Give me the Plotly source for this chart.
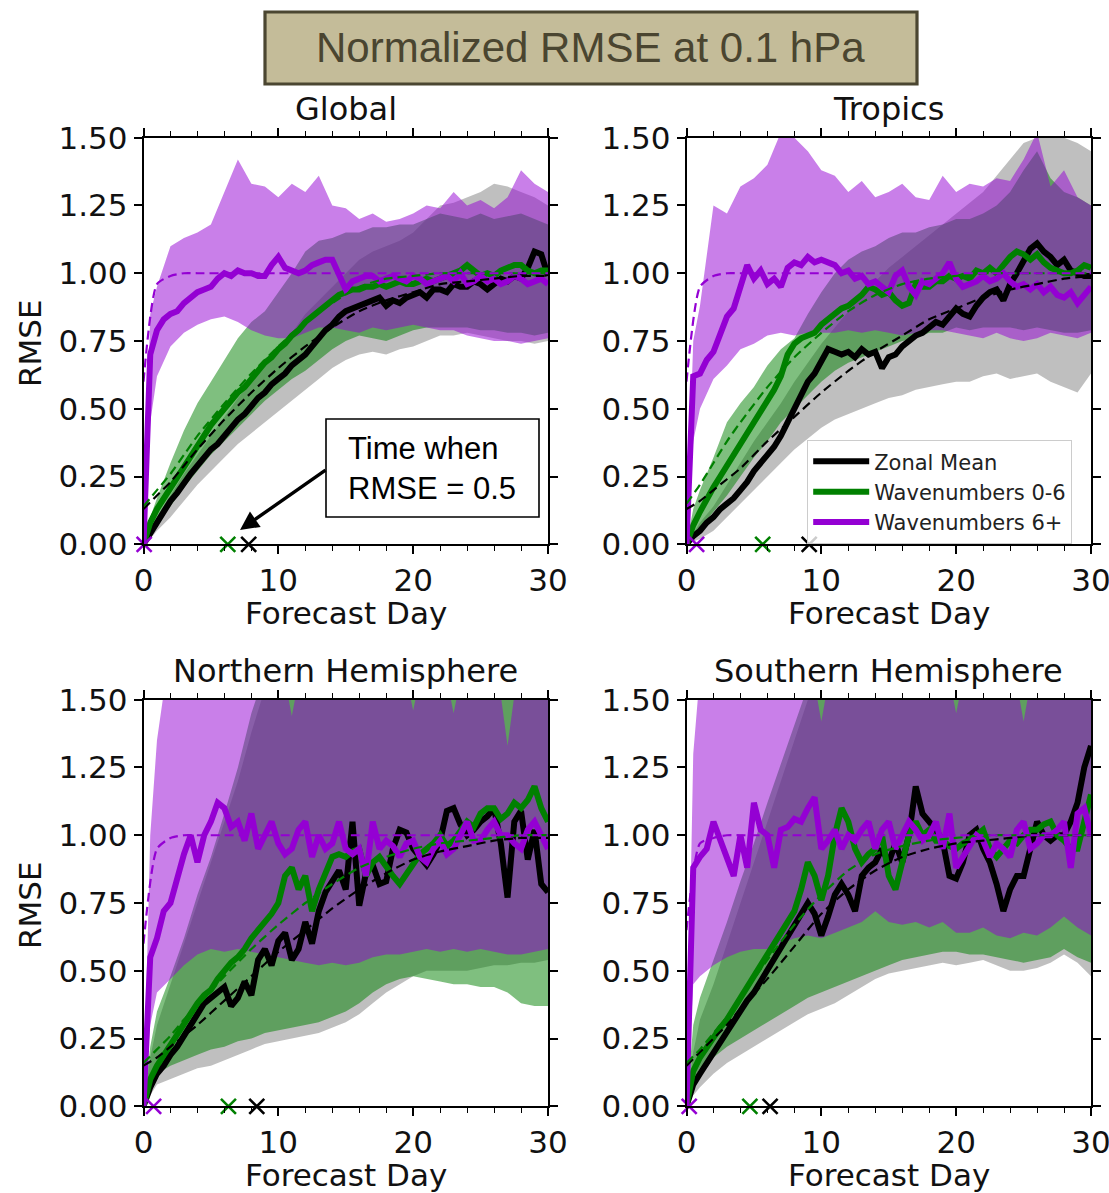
import plotly.graph_objects as go

# ---------------- data ----------------
DAYS = [i * 0.5 for i in range(61)]                   # 0, 0.5, ... 30
BAND_DAYS = [0, 0.5] + list(range(1, 31))              # 0, 0.5, 1, 2 ... 30
FIT_DAYS = [0, 1, 2, 3, 4] + list(range(6, 31, 2))     # 0..4, 6, 8 ... 30

PANELS = ["Global", "Tropics", "Northern Hemisphere", "Southern Hemisphere"]
SERIES = ["Zonal Mean", "Wavenumbers 0-6", "Wavenumbers 6+"]

# ---- Global ----
GLB_BLACK = [0, 0.04, 0.09, 0.13, 0.16, 0.19, 0.23, 0.26, 0.29, 0.32,
             0.35, 0.37, 0.40, 0.43, 0.46, 0.48, 0.51, 0.54, 0.56, 0.59,
             0.61, 0.63, 0.66, 0.68, 0.70, 0.73, 0.76, 0.79, 0.81, 0.84,
             0.86, 0.87, 0.88, 0.89, 0.90, 0.91, 0.88, 0.90, 0.89, 0.91,
             0.92, 0.93, 0.91, 0.94, 0.94, 0.93, 0.96, 0.95, 0.95, 0.97,
             0.96, 0.94, 0.96, 0.98, 0.97, 0.99, 0.98, 1.02, 1.08, 1.07,
             0.99]
GLB_GREEN = [0, 0.08, 0.13, 0.17, 0.21, 0.25, 0.29, 0.33, 0.37, 0.40,
             0.44, 0.47, 0.50, 0.53, 0.56, 0.58, 0.61, 0.64, 0.67, 0.69,
             0.72, 0.74, 0.77, 0.79, 0.82, 0.84, 0.86, 0.88, 0.90, 0.92,
             0.93, 0.94, 0.94, 0.95, 0.95, 0.96, 0.95, 0.96, 0.97, 0.96,
             0.96, 0.97, 0.98, 0.97, 0.98, 0.99, 1.00, 1.01, 1.03, 1.01,
             0.99, 1.00, 0.99, 1.01, 1.02, 1.03, 1.03, 1.01, 1.00, 1.01,
             1.01]
GLB_PURPLE = [0, 0.70, 0.79, 0.83, 0.85, 0.86, 0.89, 0.91, 0.93, 0.94,
              0.95, 0.98, 1.00, 0.99, 1.01, 1.00, 1.00, 0.99, 0.99, 1.03,
              1.06, 1.02, 1.01, 1.00, 1.01, 1.03, 1.04, 1.05, 1.05, 1.00,
              0.94, 0.97, 0.98, 0.99, 0.99, 0.97, 0.98, 0.99, 0.98, 0.97,
              0.99, 0.98, 0.96, 0.97, 0.98, 0.99, 0.97, 1.00, 0.96, 0.97,
              0.99, 0.97, 0.98, 0.96, 0.97, 0.99, 0.98, 0.96, 0.97, 0.98,
              0.96]
GLB_BLACK_HI = [0, 0.06, 0.10, 0.18, 0.26, 0.33, 0.40, 0.47, 0.54, 0.60, 0.66, 0.72, 0.78, 0.85, 0.90, 0.95,
                1.00, 1.05, 1.08, 1.10, 1.12, 1.15, 1.20, 1.25, 1.26, 1.28, 1.30, 1.33, 1.32, 1.30, 1.28, 1.25]
GLB_BLACK_LO = [0, 0.02, 0.05, 0.10, 0.16, 0.22, 0.27, 0.32, 0.37, 0.41, 0.45, 0.49, 0.53, 0.57, 0.61, 0.65,
                0.68, 0.70, 0.71, 0.70, 0.72, 0.73, 0.75, 0.77, 0.77, 0.78, 0.77, 0.76, 0.75, 0.75, 0.74, 0.75]
GLB_GREEN_HI = [0, 0.10, 0.17, 0.30, 0.42, 0.52, 0.60, 0.68, 0.76, 0.82, 0.86, 0.93, 1.00, 1.08, 1.12, 1.13,
                1.15, 1.15, 1.17, 1.17, 1.18, 1.18, 1.20, 1.22, 1.21, 1.20, 1.22, 1.20, 1.21, 1.22, 1.20, 1.18]
GLB_GREEN_LO = [0, 0.04, 0.08, 0.14, 0.21, 0.27, 0.33, 0.38, 0.43, 0.48, 0.53, 0.57, 0.61, 0.64, 0.68, 0.72,
                0.75, 0.77, 0.76, 0.75, 0.77, 0.79, 0.80, 0.80, 0.80, 0.80, 0.79, 0.79, 0.78, 0.78, 0.77, 0.78]
GLB_PURPLE_HI = [0, 0.85, 0.95, 1.10, 1.13, 1.15, 1.18, 1.30, 1.42, 1.33, 1.32, 1.28, 1.33, 1.30, 1.36, 1.25,
                 1.24, 1.20, 1.22, 1.19, 1.20, 1.22, 1.25, 1.24, 1.30, 1.25, 1.27, 1.24, 1.28, 1.38, 1.33, 1.30]
GLB_PURPLE_LO = [0, 0.45, 0.62, 0.73, 0.78, 0.81, 0.83, 0.84, 0.82, 0.79, 0.77, 0.76, 0.76, 0.78, 0.80, 0.80,
                 0.79, 0.78, 0.80, 0.79, 0.80, 0.81, 0.80, 0.79, 0.79, 0.77, 0.76, 0.75, 0.75, 0.74, 0.75, 0.76]
GLB_BLACK_FIT = [0.13, 0.18, 0.23, 0.29, 0.35, 0.46, 0.56, 0.65, 0.73, 0.80, 0.86, 0.90, 0.93, 0.96, 0.97, 0.98, 0.99, 0.99]
GLB_GREEN_FIT = [0.14, 0.20, 0.26, 0.33, 0.40, 0.52, 0.63, 0.73, 0.82, 0.89, 0.95, 0.98, 0.99, 1.00, 1.00, 1.00, 1.00, 1.00]
GLB_PURPLE_FIT = [0.60, 0.96, 0.99, 1.00, 1.00, 1.00, 1.00, 1.00, 1.00, 1.00, 1.00, 1.00, 1.00, 1.00, 1.00, 1.00, 1.00, 1.00]

# ---- Tropics ----
TRO_BLACK = [0, 0.03, 0.05, 0.08, 0.10, 0.13, 0.15, 0.17, 0.20, 0.23,
             0.27, 0.30, 0.33, 0.36, 0.40, 0.45, 0.50, 0.55, 0.60, 0.63,
             0.67, 0.72, 0.71, 0.70, 0.71, 0.69, 0.72, 0.70, 0.71, 0.65,
             0.69, 0.70, 0.73, 0.75, 0.77, 0.78, 0.80, 0.82, 0.81, 0.84,
             0.87, 0.85, 0.84, 0.88, 0.91, 0.93, 0.94, 0.90, 0.96, 1.00,
             1.04, 1.09, 1.11, 1.08, 1.06, 1.03, 1.05, 1.01, 1.00, 0.99,
             0.99]
TRO_GREEN = [0, 0.07, 0.12, 0.17, 0.21, 0.25, 0.29, 0.33, 0.37, 0.41,
             0.45, 0.49, 0.52, 0.57, 0.62, 0.70, 0.74, 0.76, 0.77, 0.78,
             0.81, 0.83, 0.85, 0.87, 0.88, 0.90, 0.92, 0.95, 0.94, 0.92,
             0.93, 0.90, 0.88, 0.89, 0.96, 0.95, 0.95, 0.97, 0.97, 0.99,
             0.98, 0.99, 0.98, 1.01, 1.00, 1.02, 1.00, 1.03, 1.06, 1.08,
             1.07, 1.05, 1.07, 1.04, 1.02, 1.01, 1.00, 1.00, 1.01, 1.03,
             1.02]
TRO_PURPLE = [0, 0.62, 0.63, 0.68, 0.71, 0.78, 0.84, 0.87, 0.95, 1.03,
              0.98, 1.01, 0.96, 0.98, 0.95, 1.02, 1.04, 1.03, 1.06, 1.04,
              1.05, 1.04, 1.03, 1.00, 1.01, 0.98, 0.99, 0.96, 0.97, 0.95,
              0.93, 0.99, 1.01, 0.95, 0.92, 0.97, 0.96, 0.98, 1.00, 1.04,
              0.98, 0.95, 0.96, 0.97, 0.99, 0.97, 0.98, 1.00, 0.97, 0.95,
              0.96, 0.94, 0.96, 0.93, 0.95, 0.92, 0.91, 0.93, 0.89, 0.92,
              0.95]
TRO_BLACK_HI = [0, 0.04, 0.08, 0.14, 0.22, 0.30, 0.38, 0.45, 0.52, 0.60, 0.67, 0.74, 0.80, 0.86, 0.92, 0.97,
                1.02, 1.06, 1.10, 1.14, 1.18, 1.22, 1.26, 1.30, 1.36, 1.42, 1.48, 1.50, 1.52, 1.50, 1.48, 1.45]
TRO_BLACK_LO = [0, 0.01, 0.02, 0.05, 0.10, 0.15, 0.20, 0.25, 0.30, 0.35, 0.39, 0.43, 0.46, 0.48, 0.50, 0.52,
                0.54, 0.55, 0.57, 0.58, 0.59, 0.60, 0.60, 0.62, 0.63, 0.61, 0.62, 0.63, 0.60, 0.58, 0.56, 0.63]
TRO_GREEN_HI = [0, 0.13, 0.20, 0.32, 0.45, 0.52, 0.58, 0.66, 0.72, 0.76, 0.85, 0.93, 1.00, 1.05, 1.08, 1.10,
                1.13, 1.15, 1.15, 1.17, 1.18, 1.20, 1.20, 1.22, 1.25, 1.30, 1.38, 1.45, 1.35, 1.30, 1.28, 1.25]
TRO_GREEN_LO = [0, 0.03, 0.06, 0.12, 0.18, 0.25, 0.32, 0.38, 0.45, 0.50, 0.55, 0.60, 0.64, 0.67, 0.69, 0.71,
                0.73, 0.75, 0.76, 0.78, 0.78, 0.80, 0.79, 0.80, 0.80, 0.80, 0.79, 0.80, 0.79, 0.78, 0.78, 0.79]
TRO_PURPLE_HI = [0, 0.75, 0.88, 1.25, 1.22, 1.32, 1.35, 1.40, 1.52, 1.50, 1.45, 1.38, 1.36, 1.30, 1.34, 1.28,
                 1.30, 1.33, 1.28, 1.27, 1.36, 1.30, 1.33, 1.32, 1.35, 1.34, 1.42, 1.52, 1.32, 1.38, 1.28, 1.25]
TRO_PURPLE_LO = [0, 0.38, 0.50, 0.61, 0.66, 0.72, 0.74, 0.77, 0.78, 0.77, 0.78, 0.78, 0.78, 0.79, 0.78, 0.79,
                 0.78, 0.77, 0.78, 0.79, 0.79, 0.78, 0.77, 0.76, 0.78, 0.76, 0.75, 0.76, 0.78, 0.77, 0.76, 0.78]
TRO_BLACK_FIT = [0.13, 0.16, 0.20, 0.24, 0.28, 0.38, 0.47, 0.56, 0.64, 0.71, 0.77, 0.83, 0.87, 0.91, 0.94, 0.96, 0.98, 0.99]
TRO_GREEN_FIT = [0.15, 0.22, 0.30, 0.38, 0.45, 0.58, 0.69, 0.78, 0.86, 0.92, 0.96, 0.98, 0.99, 1.00, 1.00, 1.00, 1.00, 1.00]
TRO_PURPLE_FIT = [0.60, 0.95, 0.99, 1.00, 1.00, 1.00, 1.00, 1.00, 1.00, 1.00, 1.00, 1.00, 1.00, 1.00, 1.00, 1.00, 1.00, 1.00]

# ---- Northern Hemisphere ----
NH_BLACK = [0, 0.07, 0.12, 0.15, 0.19, 0.22, 0.26, 0.30, 0.35, 0.38,
            0.40, 0.42, 0.44, 0.37, 0.40, 0.46, 0.41, 0.54, 0.58, 0.52,
            0.61, 0.64, 0.54, 0.58, 0.68, 0.60, 0.72, 0.79, 0.83, 0.87,
            0.80, 1.05, 0.74, 0.86, 0.89, 0.82, 0.83, 0.95, 1.02, 1.01,
            0.95, 0.92, 0.89, 0.93, 0.98, 1.09, 1.10, 1.04, 1.00, 1.02,
            1.05, 1.07, 1.10, 0.97, 0.77, 1.05, 1.09, 0.91, 1.02, 0.82,
            0.79]
NH_GREEN = [0, 0.10, 0.15, 0.19, 0.22, 0.26, 0.30, 0.34, 0.38, 0.41,
            0.43, 0.47, 0.50, 0.53, 0.55, 0.58, 0.62, 0.65, 0.68, 0.71,
            0.75, 0.85, 0.88, 0.80, 0.85, 0.72, 0.80, 0.86, 0.92, 0.93,
            0.92, 0.94, 0.95, 0.85, 0.90, 0.92, 0.88, 0.85, 0.82, 0.86,
            0.90, 0.93, 0.95, 0.97, 1.00, 0.96, 0.98, 1.02, 1.05, 1.03,
            1.08, 1.10, 1.10, 1.06, 1.08, 1.12, 1.10, 1.13, 1.18, 1.10,
            1.05]
NH_PURPLE = [0, 0.55, 0.62, 0.72, 0.75, 0.85, 0.93, 1.00, 0.90, 1.00,
             1.05, 1.12, 1.10, 1.03, 1.05, 0.98, 1.08, 0.95, 1.00, 1.05,
             0.97, 0.93, 0.95, 1.02, 1.05, 0.92, 1.00, 0.95, 0.97, 1.05,
             0.95, 0.93, 0.95, 0.85, 1.05, 0.95, 0.98, 0.96, 0.92, 0.97,
             0.98, 0.92, 0.90, 0.95, 0.98, 0.93, 0.95, 1.00, 1.05, 0.98,
             0.98, 1.02, 1.05, 1.00, 1.00, 0.97, 0.95, 1.02, 1.05, 1.00,
             0.95]
NH_BLACK_HI = [0, 0.18, 0.30, 0.45, 0.60, 0.75, 0.90, 1.05, 1.20, 1.38, 1.55, 1.70, 1.70, 1.70, 1.70, 1.70,
               1.70, 1.70, 1.70, 1.70, 1.70, 1.70, 1.70, 1.70, 1.70, 1.70, 1.70, 1.70, 1.70, 1.70, 1.70, 1.70]
NH_BLACK_LO = [0, 0.04, 0.08, 0.10, 0.12, 0.14, 0.15, 0.17, 0.19, 0.21, 0.23, 0.24, 0.25, 0.26, 0.27, 0.29,
               0.31, 0.34, 0.38, 0.42, 0.45, 0.48, 0.50, 0.50, 0.50, 0.50, 0.51, 0.52, 0.52, 0.53, 0.53, 0.54]
NH_GREEN_HI = [0, 0.22, 0.35, 0.48, 0.62, 0.78, 0.92, 1.08, 1.25, 1.45, 1.60, 1.70, 1.70, 1.70, 1.70, 1.70,
               1.70, 1.70, 1.70, 1.70, 1.70, 1.70, 1.70, 1.70, 1.70, 1.70, 1.70, 1.70, 1.70, 1.70, 1.70, 1.70]
NH_GREEN_LO = [0, 0.07, 0.12, 0.15, 0.17, 0.19, 0.21, 0.22, 0.24, 0.25, 0.27, 0.28, 0.29, 0.30, 0.31, 0.33,
               0.35, 0.38, 0.42, 0.45, 0.47, 0.48, 0.47, 0.46, 0.45, 0.45, 0.44, 0.44, 0.42, 0.38, 0.37, 0.37]
NH_PURPLE_HI = [0, 1.00, 1.35, 1.70, 1.70, 1.70, 1.70, 1.70, 1.70, 1.70, 1.70, 1.70, 1.44, 1.70, 1.70, 1.70,
                1.70, 1.70, 1.70, 1.70, 1.70, 1.46, 1.70, 1.70, 1.45, 1.70, 1.70, 1.70, 1.33, 1.70, 1.70, 1.70]
NH_PURPLE_LO = [0, 0.30, 0.42, 0.47, 0.52, 0.56, 0.58, 0.57, 0.58, 0.57, 0.56, 0.55, 0.54, 0.53, 0.52, 0.53,
                0.52, 0.53, 0.55, 0.56, 0.56, 0.57, 0.58, 0.57, 0.58, 0.57, 0.58, 0.57, 0.56, 0.56, 0.57, 0.58]
NH_BLACK_FIT = [0.15, 0.18, 0.22, 0.26, 0.30, 0.39, 0.48, 0.57, 0.65, 0.73, 0.80, 0.86, 0.91, 0.94, 0.96, 0.98, 0.99, 0.99]
NH_GREEN_FIT = [0.16, 0.21, 0.26, 0.32, 0.37, 0.48, 0.58, 0.67, 0.75, 0.82, 0.88, 0.92, 0.95, 0.97, 0.98, 0.99, 1.00, 1.00]
NH_PURPLE_FIT = [0.60, 0.95, 0.99, 1.00, 1.00, 1.00, 1.00, 1.00, 1.00, 1.00, 1.00, 1.00, 1.00, 1.00, 1.00, 1.00, 1.00, 1.00]

# ---- Southern Hemisphere ----
SH_BLACK = [0, 0.08, 0.12, 0.16, 0.20, 0.23, 0.27, 0.31, 0.35, 0.39,
            0.42, 0.46, 0.50, 0.54, 0.58, 0.62, 0.66, 0.70, 0.75, 0.71,
            0.63, 0.70, 0.78, 0.82, 0.78, 0.72, 0.85, 0.88, 0.90, 0.95,
            0.90, 0.97, 0.90, 1.00, 1.18, 1.08, 1.05, 1.02, 0.98, 0.85,
            0.84, 0.90, 1.00, 1.02, 0.95, 0.90, 0.82, 0.72, 0.80, 0.85,
            0.85, 0.95, 1.05, 1.00, 0.98, 1.00, 1.00, 1.05, 1.12, 1.25,
            1.33]
SH_GREEN = [0, 0.13, 0.18, 0.22, 0.25, 0.29, 0.32, 0.36, 0.40, 0.44,
            0.48, 0.52, 0.55, 0.59, 0.63, 0.67, 0.72, 0.80, 0.90, 0.85,
            0.76, 0.85, 1.00, 1.10, 1.05, 0.95, 0.90, 0.93, 0.95, 1.00,
            0.85, 0.80, 0.90, 1.00, 1.05, 1.00, 1.02, 0.98, 0.98, 0.96,
            0.95, 0.97, 0.98, 1.00, 1.02, 0.95, 0.92, 0.95, 0.98, 0.97,
            1.00, 1.02, 1.02, 1.04, 1.05, 1.00, 0.98, 0.95, 0.95, 1.05,
            1.15]
SH_PURPLE = [0, 0.88, 0.92, 0.95, 1.05, 0.98, 0.92, 0.85, 1.00, 0.88,
             1.12, 1.02, 1.00, 0.88, 1.02, 1.03, 1.06, 1.05, 1.10, 1.14,
             0.95, 0.98, 1.02, 0.95, 1.00, 0.98, 1.02, 1.05, 0.95, 1.02,
             1.05, 0.95, 1.00, 1.05, 1.02, 0.98, 1.00, 1.05, 0.95, 1.08,
             0.88, 0.92, 0.95, 1.00, 0.98, 0.92, 0.97, 0.95, 0.92, 1.02,
             1.05, 0.95, 0.97, 1.00, 1.00, 1.02, 1.05, 0.88, 1.08, 1.10,
             1.00]
SH_BLACK_HI = [0, 0.20, 0.32, 0.45, 0.60, 0.75, 0.90, 1.05, 1.20, 1.35, 1.50, 1.65, 1.70, 1.70, 1.70, 1.70,
               1.70, 1.70, 1.70, 1.70, 1.70, 1.70, 1.70, 1.70, 1.70, 1.70, 1.70, 1.70, 1.70, 1.70, 1.70, 1.70]
SH_BLACK_LO = [0, 0.04, 0.07, 0.12, 0.16, 0.19, 0.22, 0.25, 0.28, 0.31, 0.34, 0.36, 0.38, 0.41, 0.44, 0.47,
               0.49, 0.50, 0.51, 0.52, 0.53, 0.52, 0.53, 0.54, 0.52, 0.50, 0.50, 0.51, 0.53, 0.56, 0.53, 0.48]
SH_GREEN_HI = [0, 0.30, 0.40, 0.54, 0.68, 0.83, 0.97, 1.12, 1.26, 1.40, 1.55, 1.70, 1.70, 1.70, 1.70, 1.70,
               1.70, 1.70, 1.70, 1.70, 1.70, 1.70, 1.70, 1.70, 1.70, 1.70, 1.70, 1.70, 1.70, 1.70, 1.70, 1.70]
SH_GREEN_LO = [0, 0.10, 0.14, 0.18, 0.22, 0.25, 0.28, 0.31, 0.34, 0.37, 0.40, 0.42, 0.44, 0.46, 0.48, 0.50,
               0.52, 0.54, 0.55, 0.56, 0.57, 0.57, 0.56, 0.56, 0.55, 0.54, 0.53, 0.54, 0.55, 0.58, 0.55, 0.53]
SH_PURPLE_HI = [0, 1.30, 1.60, 1.70, 1.70, 1.70, 1.70, 1.70, 1.70, 1.70, 1.70, 1.42, 1.70, 1.70, 1.70, 1.70,
                1.70, 1.70, 1.70, 1.70, 1.70, 1.45, 1.70, 1.70, 1.70, 1.70, 1.42, 1.70, 1.70, 1.70, 1.70, 1.70]
SH_PURPLE_LO = [0, 0.45, 0.48, 0.52, 0.55, 0.57, 0.58, 0.58, 0.60, 0.62, 0.63, 0.62, 0.64, 0.66, 0.68, 0.72,
                0.68, 0.67, 0.68, 0.66, 0.68, 0.64, 0.64, 0.66, 0.63, 0.62, 0.64, 0.63, 0.66, 0.70, 0.66, 0.63]
SH_BLACK_FIT = [0.15, 0.20, 0.25, 0.30, 0.36, 0.47, 0.59, 0.71, 0.80, 0.87, 0.92, 0.95, 0.97, 0.98, 0.99, 1.00, 1.00, 1.00]
SH_GREEN_FIT = [0.16, 0.21, 0.27, 0.33, 0.40, 0.54, 0.67, 0.78, 0.87, 0.93, 0.96, 0.98, 0.99, 1.00, 1.00, 1.00, 1.00, 1.00]
SH_PURPLE_FIT = [0.65, 0.97, 0.99, 1.00, 1.00, 1.00, 1.00, 1.00, 1.00, 1.00, 1.00, 1.00, 1.00, 1.00, 1.00, 1.00, 1.00, 1.00]

# day at which each RMSE reaches 0.5 (the "x" markers), one value per panel
CROSS_BLACK = [7.8, 9.1, 8.4, 6.2]
CROSS_GREEN = [6.25, 5.65, 6.3, 4.7]
CROSS_PURPLE = [0.05, 0.75, 0.75, 0.2]

# ---------------- assemble ----------------
MEANS = [[GLB_BLACK, GLB_GREEN, GLB_PURPLE], [TRO_BLACK, TRO_GREEN, TRO_PURPLE],
         [NH_BLACK, NH_GREEN, NH_PURPLE], [SH_BLACK, SH_GREEN, SH_PURPLE]]
HIS = [[GLB_BLACK_HI, GLB_GREEN_HI, GLB_PURPLE_HI], [TRO_BLACK_HI, TRO_GREEN_HI, TRO_PURPLE_HI],
       [NH_BLACK_HI, NH_GREEN_HI, NH_PURPLE_HI], [SH_BLACK_HI, SH_GREEN_HI, SH_PURPLE_HI]]
LOS = [[GLB_BLACK_LO, GLB_GREEN_LO, GLB_PURPLE_LO], [TRO_BLACK_LO, TRO_GREEN_LO, TRO_PURPLE_LO],
       [NH_BLACK_LO, NH_GREEN_LO, NH_PURPLE_LO], [SH_BLACK_LO, SH_GREEN_LO, SH_PURPLE_LO]]
FITS = [[GLB_BLACK_FIT, GLB_GREEN_FIT, GLB_PURPLE_FIT], [TRO_BLACK_FIT, TRO_GREEN_FIT, TRO_PURPLE_FIT],
        [NH_BLACK_FIT, NH_GREEN_FIT, NH_PURPLE_FIT], [SH_BLACK_FIT, SH_GREEN_FIT, SH_PURPLE_FIT]]
CROSS = [CROSS_BLACK, CROSS_GREEN, CROSS_PURPLE]

for p in range(4):
    for s in range(3):
        assert len(MEANS[p][s]) == len(DAYS), (p, s, 'mean')
        assert len(HIS[p][s]) == len(BAND_DAYS), (p, s, 'hi')
        assert len(LOS[p][s]) == len(BAND_DAYS), (p, s, 'lo')
        assert len(FITS[p][s]) == len(FIT_DAYS), (p, s, 'fit')

LINE_COLORS = ["#000000", "#008000", "#9400d3"]
FILL_COLORS = ["rgba(0,0,0,0.25)", "rgba(0,128,0,0.5)", "rgba(148,0,211,0.5)"]

W, H = 1109, 1193
# plot-area boxes in pixels: (left, right, top, bottom)
BOXES = [(143.5, 548, 137.7, 544.3), (686.5, 1091, 137.7, 544.3),
         (143.5, 548, 699.7, 1106.3), (686.5, 1091, 699.7, 1106.3)]

FONT = "DejaVu Sans"
TXT = "#111111"

fig = go.Figure()

for p in range(4):
    xa = "x" if p == 0 else f"x{p + 1}"
    ya = "y" if p == 0 else f"y{p + 1}"
    # bands
    for s in range(3):
        fig.add_trace(go.Scatter(
            x=BAND_DAYS + BAND_DAYS[::-1], y=HIS[p][s] + LOS[p][s][::-1],
            fill="toself", fillcolor=FILL_COLORS[s], line=dict(width=0),
            mode="lines", hoverinfo="skip", showlegend=False, xaxis=xa, yaxis=ya))
    # mean lines
    for s in range(3):
        fig.add_trace(go.Scatter(
            x=DAYS, y=MEANS[p][s], mode="lines", name=SERIES[s],
            line=dict(color=LINE_COLORS[s], width=6),
            showlegend=(p == 0), legendrank=s + 1, xaxis=xa, yaxis=ya))
    # dashed fits
    for s in range(3):
        fig.add_trace(go.Scatter(
            x=FIT_DAYS, y=FITS[p][s], mode="lines",
            line=dict(color=LINE_COLORS[s], width=2.2, dash="9px,5px", shape="spline", smoothing=0.6),
            showlegend=False, hoverinfo="skip", xaxis=xa, yaxis=ya))
    # x markers at RMSE = 0.5 crossing
    for s in [1, 0, 2]:
        fig.add_trace(go.Scatter(
            x=[CROSS[s][p]], y=[0], mode="markers", cliponaxis=False,
            marker=dict(symbol="x-thin", size=15, line=dict(width=2.6, color=LINE_COLORS[s])),
            showlegend=False, hoverinfo="skip", xaxis=xa, yaxis=ya))

axis_common = dict(showline=True, linecolor="black", linewidth=1.7, mirror="ticks",
                   ticks="outside", ticklen=8, tickwidth=1.6, tickcolor="black",
                   showgrid=False, zeroline=False, automargin=False,
                   ticklabeloverflow="allow",
                   tickfont=dict(family=FONT, size=31, color=TXT))
layout = dict(width=W, height=H, margin=dict(l=0, r=0, t=0, b=0, autoexpand=False),
              paper_bgcolor="white", plot_bgcolor="white", showlegend=True)
for p, (l, r, t, b) in enumerate(BOXES):
    xk = "xaxis" if p == 0 else f"xaxis{p + 1}"
    yk = "yaxis" if p == 0 else f"yaxis{p + 1}"
    ya = "y" if p == 0 else f"y{p + 1}"
    xa = "x" if p == 0 else f"x{p + 1}"
    layout[xk] = dict(axis_common, domain=[l / W, r / W], anchor=ya, range=[0, 30],
                      tick0=0, dtick=10,
                      minor=dict(dtick=2, tick0=0, ticks="outside", ticklen=4.5,
                                 tickwidth=1.4, tickcolor="black", showgrid=False))
    layout[yk] = dict(axis_common, domain=[1 - b / H, 1 - t / H], anchor=xa, range=[0, 1.5],
                      tick0=0, dtick=0.25, tickformat=".2f")

fig.update_layout(**layout)

fig.update_layout(legend=dict(
    x=807 / W, y=1 - 440 / H, xanchor="left", yanchor="top", itemwidth=56,
    bgcolor="rgba(255,255,255,0.8)", bordercolor="#cccccc", borderwidth=1.2,
    font=dict(family=FONT, size=21, color="#222222"), traceorder="normal"))

# title box
fig.add_shape(type="rect", xref="paper", yref="paper",
              x0=265 / W, x1=917 / W, y0=1 - 84 / H, y1=1 - 12 / H,
              fillcolor="#c4bc99", line=dict(color="#4b4631", width=3.2), layer="above")
fig.add_annotation(xref="paper", yref="paper", x=590 / W, y=1 - 48 / H,
                   text="Normalized RMSE at 0.1 hPa", showarrow=False,
                   xanchor="center", yanchor="middle",
                   font=dict(family="Liberation Sans", size=42, color="#4a4530"))

# subplot titles and axis titles
for p, (l, r, t, b) in enumerate(BOXES):
    cx = (l + r) / 2
    fig.add_annotation(xref="paper", yref="paper", x=cx / W, y=1 - (t - 29) / H,
                       text=PANELS[p], showarrow=False, xanchor="center", yanchor="middle",
                       font=dict(family=FONT, size=32, color=TXT))
    fig.add_annotation(xref="paper", yref="paper", x=cx / W, y=1 - (b + 69) / H,
                       text="Forecast Day", showarrow=False, xanchor="center", yanchor="middle",
                       font=dict(family=FONT, size=31, color=TXT))
    if p in (0, 2):
        fig.add_annotation(xref="paper", yref="paper", x=30 / W, y=1 - ((t + b) / 2 + 2) / H,
                           text="RMSE", showarrow=False, textangle=-90,
                           xanchor="center", yanchor="middle",
                           font=dict(family=FONT, size=31, color=TXT))

# "Time when RMSE = 0.5" call-out in the Global panel
fig.add_shape(type="rect", xref="paper", yref="paper",
              x0=326 / W, x1=539 / W, y0=1 - 517 / H, y1=1 - 419 / H,
              fillcolor="white", line=dict(color="black", width=1.6), layer="above")
fig.add_annotation(xref="paper", yref="paper", x=346 / W, y=1 - 468 / H,
                   text="Time when<br>RMSE = 0.5", showarrow=False, align="left",
                   xanchor="left", yanchor="middle",
                   font=dict(family="Liberation Sans", size=31, color="black"))
gl, gr, gt, gb = BOXES[0]
def gx(px):
    return (px - gl) / (gr - gl) * 30
def gy(py):
    return (gb - py) / (gb - gt) * 1.5
fig.add_annotation(xref="x", yref="y", axref="x", ayref="y",
                   x=gx(240), y=gy(530), ax=gx(327), ay=gy(469),
                   text="", showarrow=True, arrowhead=2, arrowsize=1.1,
                   arrowwidth=3.4, arrowcolor="black", standoff=0, startstandoff=0)

fig.write_html("out.html")
